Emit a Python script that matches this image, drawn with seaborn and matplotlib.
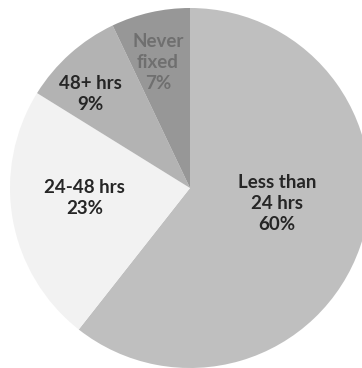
import matplotlib
matplotlib.use("Agg")
import matplotlib.pyplot as plt
import numpy as np
import seaborn as sns

sns.set_theme(style="white")
plt.rcParams["font.family"] = ["Lato", "DejaVu Sans"]

# Time taken to fix reported issues
categories = ["Less than\n24 hrs", "24-48 hrs", "48+ hrs", "Never\nfixed"]
shares = [60, 23, 9, 7]
slice_colors = ["#bfbfbf", "#f2f2f2", "#b3b3b3", "#979797"]
text_colors = ["#262626", "#262626", "#262626", "#6f6f6f"]
# label placement: radial distance and angular nudge (degrees) per slice
label_radius = [0.49, 0.59, 0.76, 0.72]
label_nudge = [9, -4.5, 5, 1.6]

fig = plt.figure(figsize=(3.62, 3.68), dpi=100)
ax = fig.add_axes([0, 0, 1, 1])
ax.set_axis_off()

wedges, _ = ax.pie(shares, colors=slice_colors, startangle=90, counterclock=False,
                   radius=1.0, wedgeprops=dict(linewidth=0))

for w, name, val, r, nudge, tc in zip(wedges, categories, shares, label_radius,
                                      label_nudge, text_colors):
    mid = np.deg2rad((w.theta1 + w.theta2) / 2 + nudge)
    ax.text(r * np.cos(mid), r * np.sin(mid), f"{name}\n{val}%",
            ha="center", va="center", fontsize=13.5, fontweight="bold",
            color=tc, linespacing=1.3)

ax.set_xlim(-190 / 180, (362 - 190) / 180)
ax.set_ylim(-(368 - 188) / 180, 188 / 180)
ax.set_aspect("auto")

fig.savefig("out.png", dpi=100, facecolor="white")
